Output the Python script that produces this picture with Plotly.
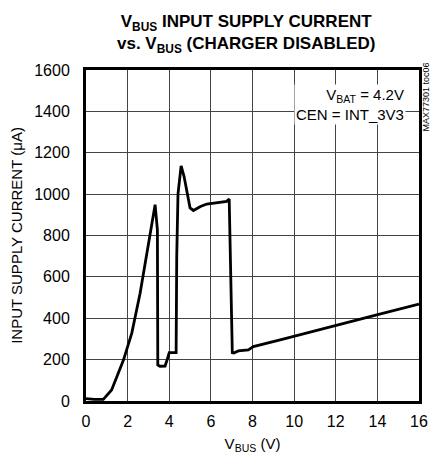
import plotly.graph_objects as go

vbus_v = [0.0, 0.4, 0.83, 1.23, 1.8, 2.2, 2.6, 3.0, 3.2, 3.32, 3.43, 3.45, 3.55, 3.8, 3.9, 4.0,
          4.33, 4.36, 4.42, 4.57, 4.71, 5.0, 5.16, 5.5, 5.8, 6.3, 6.76, 6.88, 6.92, 7.03,
          7.1, 7.32, 7.8, 8.04, 9.33, 11.9, 13.97, 16.0]
supply_ua = [12, 8, 8, 53, 198, 328, 521, 763, 880, 949, 828, 174, 168, 169, 200, 234,
             234, 700, 1000, 1137, 1086, 933, 921, 940, 952, 958, 965, 976, 811, 234,
             232, 242, 247, 263, 295, 360, 416, 468]

x_ticks = [0, 2, 4, 6, 8, 10, 12, 14, 16]
y_ticks = [0, 200, 400, 600, 800, 1000, 1200, 1400, 1600]

FONT = "Liberation Sans Narrow, Arial Narrow, Liberation Sans, sans-serif"

# page body has an 8px margin, so the figure is drawn 8px smaller
fig = go.Figure()
fig.add_trace(go.Scatter(x=vbus_v, y=supply_ua, mode="lines",
                         line=dict(color="black", width=2.8), showlegend=False))

fig.update_layout(
    width=423, height=448,
    margin=dict(l=78, r=12, t=62, b=55),
    paper_bgcolor="white", plot_bgcolor="white",
    font=dict(family=FONT, size=14, color="black"),
    xaxis=dict(
        range=[0, 16], tickvals=x_ticks, showgrid=True, gridcolor="#444", gridwidth=1,
        showline=True, linecolor="black", linewidth=3, mirror=True, ticks="",
        zeroline=False, tickfont=dict(size=16), automargin=False, ticklabelstandoff=4,
        title=dict(text="V<sub>BUS</sub> (V)", standoff=10, font=dict(size=15)),
    ),
    yaxis=dict(
        range=[0, 1600], tickvals=y_ticks, showgrid=True, gridcolor="#444", gridwidth=1,
        showline=True, linecolor="black", linewidth=3, mirror=True, ticks="",
        zeroline=False, tickfont=dict(size=16), automargin=False, ticklabelstandoff=10,
        title=dict(text="INPUT SUPPLY CURRENT (μA)", standoff=12, font=dict(size=15)),
    ),
)

fig.add_annotation(
    text="<b>V<sub>BUS</sub> INPUT SUPPLY CURRENT<br>vs. V<sub>BUS</sub> (CHARGER DISABLED)</b>",
    xref="paper", yref="paper", x=0.48, y=1.11, xanchor="center", yanchor="middle",
    showarrow=False, font=dict(family=FONT, size=17, color="black"),
)
fig.add_annotation(
    text="V<sub>BAT</sub> = 4.2V<br>CEN = INT_3V3", xref="paper", yref="paper",
    x=0.96, y=0.958, xanchor="right", yanchor="top", align="right", showarrow=False,
    bgcolor="white", font=dict(family=FONT, size=15),
)
fig.add_annotation(
    text="MAX77301 toc06", xref="paper", yref="paper", x=1.0, y=1.024,
    xshift=7, xanchor="center", yanchor="top", textangle=-90, showarrow=False,
    font=dict(family=FONT, size=9), borderpad=0,
)

fig.write_html("out.html")
